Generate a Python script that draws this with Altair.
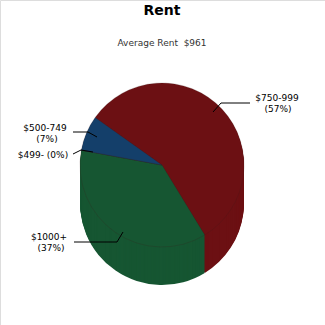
import altair as alt
import pandas as pd

# ---- data ----
categories = ["$750-999", "$1000+", "$499-", "$500-749"]
percents = [57, 37, 0, 7]
slice_order = [0, 1, 2, 3]
title_text = "Rent"
subtitle_text = "Average Rent\u00a0\u00a0$961"

top_colors = ["#7a1317", "#19603a", "#19603a", "#174a7b"]
side_colors = ["#6c1013", "#165632", "#165632", "#143f6a"]

df = pd.DataFrame({"cat": categories, "pct": percents, "ord": slice_order})

CX, CY, R, DEPTH = 162, 165, 82, 38
start = 5.33
theta_scale = alt.Scale(range=[start, start + 6.283185307])

FONT = "DejaVu Sans"


def pie(y, colors, stroke=None):
    m = alt.Chart(df).mark_arc(
        radius=R,
        stroke=stroke if stroke else colors[0],
        strokeWidth=0.5 if stroke else 0,
        strokeOpacity=0.4,
    )
    return m.encode(
        theta=alt.Theta("pct:Q", stack=True, scale=theta_scale),
        order=alt.Order("ord:Q"),
        color=alt.Color("cat:N", scale=alt.Scale(domain=categories, range=colors), legend=None),
        x=alt.value(CX),
        y=alt.value(y),
    )


layers = []
for d in range(DEPTH, 0, -1):
    layers.append(pie(CY + d, side_colors))
layers.append(pie(CY, top_colors, stroke="#3a1a1a"))


def text(t, x, y, size=9, weight="normal", color="#000", align="center"):
    return alt.Chart(pd.DataFrame({"t": [t]})).mark_text(
        font=FONT, fontSize=size, fontWeight=weight, color=color, align=align, baseline="alphabetic"
    ).encode(text="t:N", x=alt.value(x), y=alt.value(y))


def seg(x1, y1, x2, y2):
    return alt.Chart(pd.DataFrame({"a": [0]})).mark_rule(color="#000", strokeWidth=1).encode(
        x=alt.value(x1), y=alt.value(y1), x2=alt.value(x2), y2=alt.value(y2)
    )


lab = {c: p for c, p in zip(categories, percents)}

layers += [
    text(title_text, 162, 15, size=14, weight="bold"),
    text(subtitle_text, 162, 46, size=9, color="#333333"),
    # $750-999
    text(categories[0], 277, 101),
    text(f"({lab[categories[0]]}%)", 278, 112),
    seg(213, 112, 221, 103), seg(221, 103, 250, 103),
    # $500-749
    text(categories[3], 45, 131),
    text(f"({lab[categories[3]]}%)", 47, 142),
    seg(73, 132, 88, 132), seg(88, 132, 97, 137),
    # $499-
    text(f"{categories[2]} ({lab[categories[2]]}%)", 43, 158),
    seg(73, 154, 81, 150), seg(81, 150, 93, 152),
    # $1000+
    text(categories[1], 49, 240),
    text(f"({lab[categories[1]]}%)", 51, 251),
    seg(74, 242, 117, 242), seg(117, 242, 123, 232),
]

chart = alt.layer(*layers).properties(
    width=325, height=325, autosize="none", padding=0
).configure_view(strokeWidth=0, stroke=None).configure(background="white")

chart.save("out.html", embed_options={"renderer": "svg", "actions": False})
